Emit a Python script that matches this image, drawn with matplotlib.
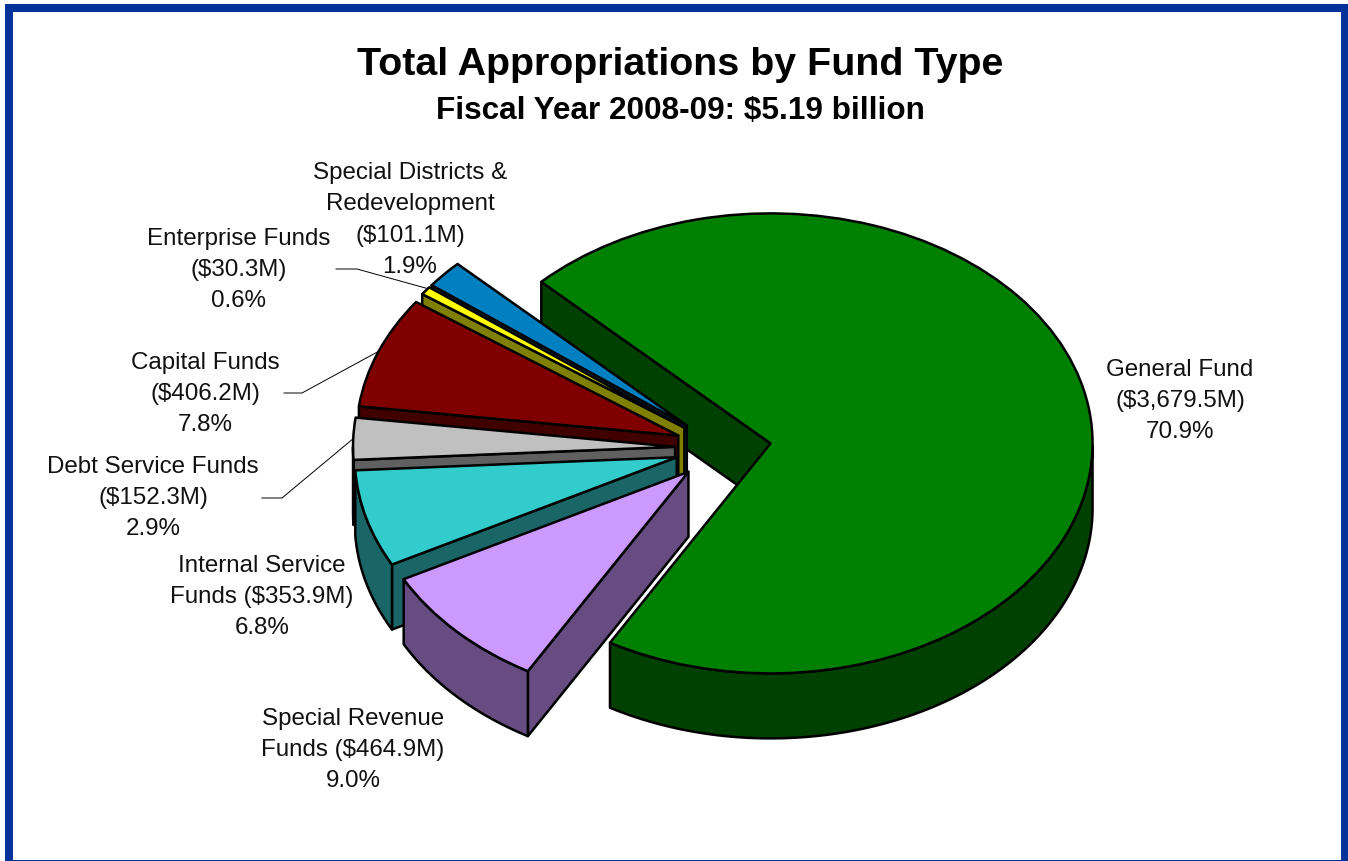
import numpy as np
import matplotlib
matplotlib.use("Agg")
import matplotlib.pyplot as plt
from matplotlib.patches import Polygon, Rectangle

categories = ["General Fund", "Special Revenue Funds", "Internal Service Funds",
              "Debt Service Funds", "Capital Funds", "Enterprise Funds",
              "Special Districts & Redevelopment"]
values = [3679.5, 464.9, 353.9, 152.3, 406.2, 30.3, 101.1]
top_colors = ["#008000", "#CC99FF", "#33CCCC", "#C0C0C0", "#800000", "#FFFF00", "#0080C0"]
side_colors = ["#004000", "#664C80", "#1A6666", "#606060", "#400000", "#808000", "#004060"]
paint_layer = [0, 6, 5, 4, 3, 2, 1]

labels = ["General Fund\n($3,679.5M)\n70.9%",
          "Special Revenue\nFunds ($464.9M)\n9.0%",
          "Internal Service\nFunds ($353.9M)\n6.8%",
          "Debt Service Funds\n($152.3M)\n2.9%",
          "Capital Funds\n($406.2M)\n7.8%",
          "Enterprise Funds\n($30.3M)\n0.6%",
          "Special Districts &\nRedevelopment\n($101.1M)\n1.9%"]
label_x = [1180, 353, 262, 153, 205, 239, 410]
label_y = [401, 750, 597, 498, 394, 270, 220]
leaders = [[(262, 499), (282, 499), (354, 439)],
           [(284, 394), (302, 394), (381, 351)],
           [(336, 270), (357, 270), (429, 290)]]

W, H = 1348, 862
CX, CY, RX, RY = 723, 449, 322, 230
DEPTH = 65 / RY
EXPLODE = 48 / RX
START = 135.4
LW = 1.8

plt.rcParams['font.family'] = ['Liberation Sans', 'DejaVu Sans']
fig = plt.figure(figsize=(W / 100, H / 100), dpi=100, facecolor="white")

# pixel layer: frame, titles, labels, leaders
pa = fig.add_axes([0, 0, 1, 1], zorder=0)
pa.set_xlim(0, W)
pa.set_ylim(H, 0)
pa.set_axis_off()
pa.add_patch(Rectangle((5, 5), W - 5, H - 5, fc="#003399", ec="none"))
pa.add_patch(Rectangle((13, 13), 1341 - 13, 861 - 13, fc="white", ec="none"))
pa.text(680, 65, "Total Appropriations by Fund Type", ha="center", va="center",
        fontsize=28.4, fontweight="bold", color="black")
pa.text(680, 111, "Fiscal Year 2008-09: $5.19 billion", ha="center", va="center",
        fontsize=22.7, fontweight="bold", color="black")
for txt, x, y in zip(labels, label_x, label_y):
    pa.text(x, y, txt, ha="center", va="center", fontsize=17.4, color="#111111",
            linespacing=1.53)
for pts in leaders:
    xs, ys = zip(*pts)
    pa.plot(xs, ys, color="black", lw=0.7)

# pie layer: squashed data axes, one unit = the pie radius
ax = fig.add_axes([0, 0, 1, 1], zorder=1)
wedges, _ = ax.pie(values, explode=[EXPLODE] * len(values), startangle=START,
                   counterclock=False, colors=top_colors, radius=1,
                   wedgeprops=dict(edgecolor="black", linewidth=LW, joinstyle="round"))
ax.set_aspect("auto")
ax.set_xlim(-CX / RX, (W - CX) / RX)
ax.set_ylim((CY - H) / RY, CY / RY)
ax.set_axis_off()
ax.patch.set_visible(False)

fractions = np.array(values) / sum(values)
edge = START
for i, frac in enumerate(fractions):
    t0, t1 = edge, edge - 360 * frac      # clockwise from t0 to t1
    edge = t1
    mid = np.radians((t0 + t1) / 2)
    ox, oy = EXPLODE * np.cos(mid), EXPLODE * np.sin(mid)
    z = 10 * paint_layer[i]
    wedges[i].set_zorder(z + 2)

    def rim(t):
        return ox + np.cos(np.radians(t)), oy + np.sin(np.radians(t))

    # radial walls that look out of the slice when extruded downward
    for t, show in ((t0, np.cos(np.radians(t0)) < 0), (t1, np.cos(np.radians(t1)) > 0)):
        if show:
            x, y = rim(t)
            ax.add_patch(Polygon([(ox, oy), (x, y), (x, y - DEPTH), (ox, oy - DEPTH)],
                                 closed=True, fc=side_colors[i], ec="black", lw=LW,
                                 joinstyle="round", zorder=z))
    # outer wall: only the part of the rim on the lower half of the ellipse
    ts = np.linspace(t0, t1, 200)
    ts = ts[np.sin(np.radians(ts)) < 0]
    if ts.size > 1:
        xs, ys = rim(ts)
        verts = np.r_[np.c_[xs, ys], np.c_[xs[::-1], ys[::-1] - DEPTH]]
        ax.add_patch(Polygon(verts, closed=True, fc=side_colors[i], ec="black", lw=LW,
                             joinstyle="round", zorder=z + 1))

fig.savefig("out.png", dpi=100, facecolor="white")
